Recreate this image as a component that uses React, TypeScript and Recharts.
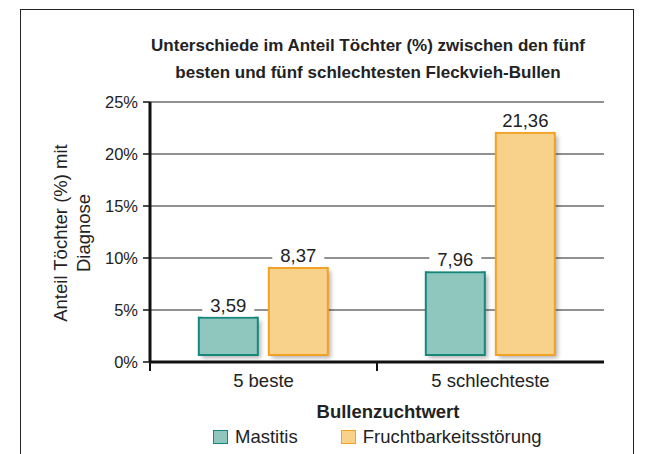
import { BarChart, Bar, XAxis, YAxis, CartesianGrid, LabelList } from "recharts";

const categories = ["5 beste", "5 schlechteste"];
const mastitis = [3.59, 7.96];
const fruchtbarkeit = [8.37, 21.36];
const yTicks = [0, 5, 10, 15, 20, 25];

const SERIES = [
  { key: "mastitis", name: "Mastitis", fill: "#8fc7bf", stroke: "#16877a" },
  { key: "frucht", name: "Fruchtbarkeitsstörung", fill: "#f8d18b", stroke: "#f2a124" },
];

const data = categories.map((c, i) => ({
  cat: c,
  mastitis: mastitis[i],
  frucht: fruchtbarkeit[i],
}));

const FONT = "'Liberation Sans', Arial, Helvetica, sans-serif";
const LIFT = 7; // bars sit slightly above the baseline, like the original

function RaisedBar(props: any) {
  const { x, y, width, height, fill, stroke, index, dataKey } = props;
  const id = `sh-${dataKey}-${index}`;
  return (
    <g>
      <defs>
        <filter id={id} x="-20%" y="-20%" width="140%" height="140%">
          <feGaussianBlur stdDeviation="2" />
        </filter>
      </defs>
      <rect x={x + 3} y={y - LIFT + 3} width={width} height={height} fill="#000" opacity={0.3} filter={`url(#${id})`} />
      <rect x={x} y={y - LIFT} width={width} height={height} fill={fill} stroke={stroke} strokeWidth={2} />
    </g>
  );
}

function ValueLabel(props: any) {
  const { x, y, width, value } = props;
  const cx = x + width / 2;
  const base = y - LIFT - 6;
  return (
    <g>
      <rect x={cx - 26} y={base - 16} width={52} height={21} fill="#fff" />
      <text x={cx} y={base} textAnchor="middle" fontSize={18.5} fontFamily={FONT} fill="#222">
        {String(value).replace(".", ",")}
      </text>
    </g>
  );
}

function XTick(props: any) {
  const { x, y, payload } = props;
  const edge = x - (payload.offset ?? 0);
  return (
    <g>
      <line x1={edge} x2={edge} y1={y} y2={y + 9} stroke="#111" strokeWidth={2} />
      <text x={x} y={y + 25} textAnchor="middle" fontSize={18.5} fontFamily={FONT} fill="#222">
        {payload.value}
      </text>
    </g>
  );
}

export default function App() {
  return (
    <div style={{ position: "absolute", left: 0, top: 0, width: 645, height: 454, background: "#fff", overflow: "hidden" }}>
      <div style={{ position: "absolute", left: 20, top: 9, width: 614, height: 470, border: "1px solid #222", boxSizing: "border-box" }} />
      <div
        style={{
          position: "absolute", left: 118, top: 32, width: 500, textAlign: "center",
          fontFamily: "'Liberation Sans Narrow', 'Arial Narrow', Arial, sans-serif", fontWeight: 700,
          fontSize: 17, lineHeight: "27px", color: "#222",
        }}
      >
        Unterschiede im Anteil Töchter (%) zwischen den fünf
        <br />
        besten und fünf schlechtesten Fleckvieh-Bullen
      </div>
      <div
        style={{
          position: "absolute", left: 71.5 - 130, top: 232.5 - 23, width: 260, height: 46,
          transform: "rotate(-90deg)", textAlign: "center", fontFamily: FONT, fontSize: 18.5,
          lineHeight: "23px", color: "#222",
        }}
      >
        Anteil Töchter (%) mit
        <br />
        Diagnose
      </div>
      <div style={{ position: "absolute", left: 0, top: 0 }}>
        <BarChart
          width={645}
          height={454}
          data={data}
          margin={{ top: 102, right: 41, bottom: 62, left: 90 }}
          barCategoryGap="21.5%"
          barGap={11}
        >
          <CartesianGrid vertical={false} stroke="#222" strokeWidth={1} />
          <XAxis
            dataKey="cat"
            height={30}
            tickSize={0}
            tickMargin={0}
            tickLine={false}
            axisLine={{ stroke: "#111", strokeWidth: 3 }}
            tick={<XTick />}
          />
          <YAxis
            width={60}
            domain={[0, 25]}
            ticks={yTicks}
            tickFormatter={(v: number) => `${v}%`}
            tickSize={7}
            tickMargin={5}
            tickLine={{ stroke: "#111", strokeWidth: 1.5 }}
            axisLine={{ stroke: "#111", strokeWidth: 3 }}
            tick={{ fontSize: 16.5, fontFamily: FONT, fill: "#222" }}
          />
          {SERIES.map((s) => (
            <Bar
              key={s.key}
              dataKey={s.key}
              name={s.name}
              fill={s.fill}
              stroke={s.stroke}
              shape={<RaisedBar />}
              isAnimationActive={false}
            >
              <LabelList dataKey={s.key} content={<ValueLabel />} />
            </Bar>
          ))}
        </BarChart>
      </div>
      <div
        style={{
          position: "absolute", left: 288, top: 400, width: 200, textAlign: "center",
          fontFamily: FONT, fontWeight: 700, fontSize: 18.5, lineHeight: "24px", color: "#222",
        }}
      >
        Bullenzuchtwert
      </div>
      <div style={{ position: "absolute", left: 213, top: 425, height: 24, display: "flex", alignItems: "center", fontFamily: FONT, fontSize: 18.5, color: "#222" }}>
        {SERIES.map((s, i) => (
          <div key={s.key} style={{ display: "flex", alignItems: "center", marginRight: i === 0 ? 43 : 0 }}>
            <span style={{ display: "inline-block", width: 15, height: 14, boxSizing: "border-box", background: s.fill, border: `1.5px solid ${s.stroke}`, marginRight: 7 }} />
            <span>{s.name}</span>
          </div>
        ))}
      </div>
    </div>
  );
}
